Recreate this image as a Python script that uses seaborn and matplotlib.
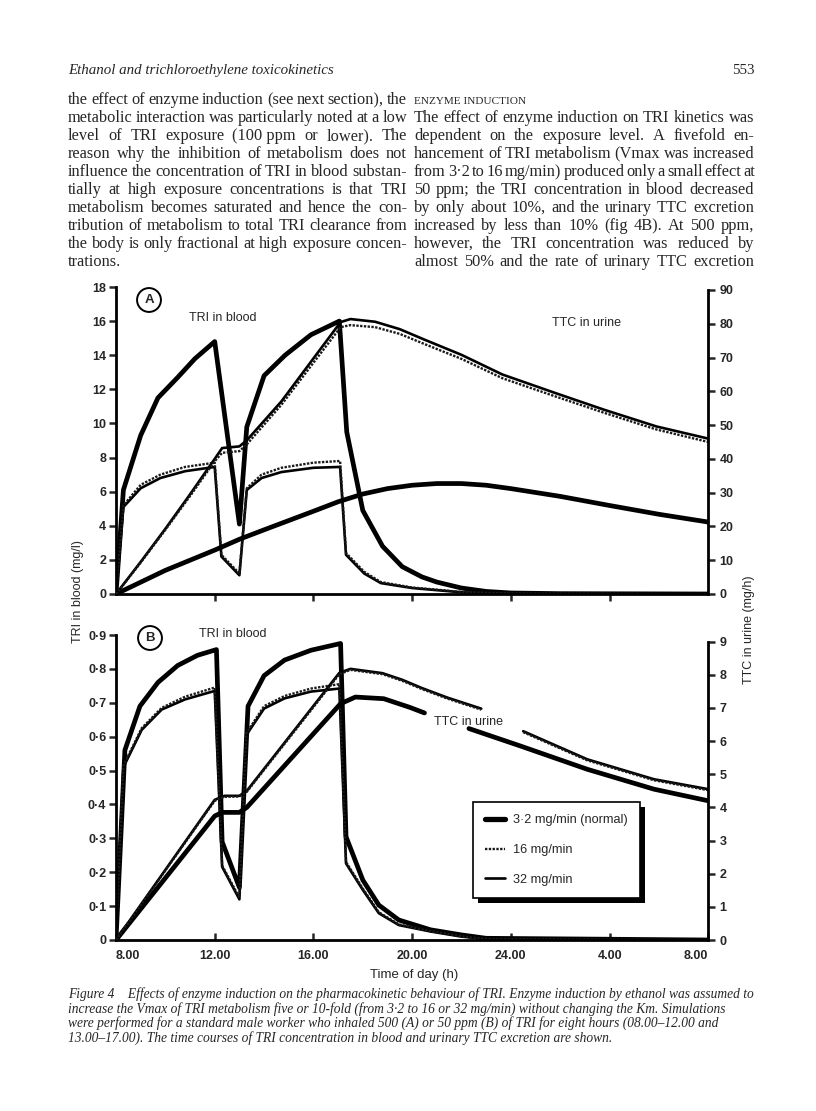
import numpy as np
import pandas as pd
import matplotlib
matplotlib.use("Agg")
import matplotlib.pyplot as plt
import seaborn as sns
from matplotlib.lines import Line2D
from matplotlib.patches import Rectangle

# ---------------- data ----------------
hour_ticks = [8, 12, 16, 20, 24, 28, 32]
hour_labels = ["8.00", "12.00", "16.00", "20.00", "24.00", "4.00", "8.00"]

a_blood_ticks = [0, 2, 4, 6, 8, 10, 12, 14, 16, 18]
a_urine_ticks = [0, 10, 20, 30, 40, 50, 60, 70, 80, 90]
b_blood_ticks = [0, 0.1, 0.2, 0.3, 0.4, 0.5, 0.6, 0.7, 0.8, 0.9]
b_blood_labels = ["0", "0·1", "0·2", "0·3", "0·4", "0·5", "0·6", "0·7", "0·8", "0·9"]
b_urine_ticks = [0, 1, 2, 3, 4, 5, 6, 7, 8, 9]

series_labels = ["3·2 mg/min (normal)", "16 mg/min", "32 mg/min"]

# Panel A (500 ppm) - TRI in blood (mg/l)
a_blood_normal_t = [8.0, 8.3, 9.0, 9.7, 10.5, 11.2, 12.0, 13.0, 13.3, 14.0, 14.85, 15.9, 17.05,
                    17.35, 18.0, 18.8, 19.6, 20.4, 21.0, 22.0, 23.0, 24.0, 26.0, 32.0]
a_blood_normal_v = [0, 6.1, 9.3, 11.5, 12.7, 13.8, 14.8, 4.1, 9.8, 12.8, 14.0, 15.2, 16.0,
                    9.5, 4.9, 2.8, 1.6, 1.0, 0.7, 0.35, 0.15, 0.06, 0.02, 0]
a_blood_t = [8.0, 8.3, 9.0, 9.8, 10.8, 12.0, 12.27, 13.0, 13.3, 13.9, 14.7, 16.0, 17.08,
             17.32, 18.06, 18.73, 20.0, 20.8, 22.0, 24.0, 32.0]
a_blood_16_v = [0, 5.2, 6.4, 7.0, 7.45, 7.7, 2.3, 1.2, 6.2, 7.0, 7.4, 7.7, 7.8,
                2.4, 1.3, 0.7, 0.38, 0.28, 0.12, 0.03, 0]
a_blood_32_v = [0, 5.1, 6.2, 6.8, 7.2, 7.45, 2.2, 1.1, 6.1, 6.8, 7.15, 7.4, 7.45,
                2.3, 1.2, 0.64, 0.35, 0.25, 0.1, 0.02, 0]

# Panel A - TTC in urine (mg/h)
a_urine_normal_t = [8.0, 10.0, 12.0, 13.0, 14.0, 16.0, 17.0, 18.0, 19.0, 20.0, 21.0, 22.0,
                    23.0, 24.0, 26.0, 28.0, 30.0, 32.0]
a_urine_normal_v = [0, 7.0, 13.0, 16.2, 19.0, 24.5, 27.3, 29.6, 31.2, 32.2, 32.7, 32.7,
                    32.2, 31.2, 28.9, 26.2, 23.6, 21.3]
a_urine_t = [8.0, 9.0, 10.0, 11.0, 12.0, 12.3, 13.0, 13.3, 14.7, 17.1, 17.5, 18.5, 19.5,
             20.5, 22.0, 23.65, 25.8, 27.8, 29.9, 32.0]
a_urine_32_v = [0, 9.5, 19.3, 29.5, 40.0, 43.2, 43.7, 45.5, 57.0, 80.5, 81.4, 80.6, 78.4,
                75.3, 70.8, 65.0, 59.5, 54.5, 49.6, 46.0]
a_urine_16_v = [0, 9.3, 19.0, 29.0, 39.3, 41.8, 42.3, 44.3, 56.0, 79.0, 79.6, 79.0, 77.0,
                74.0, 69.6, 63.9, 58.5, 53.6, 48.7, 45.0]

# Panel B (50 ppm) - TRI in blood (mg/l)
b_blood_normal_t = [8.0, 8.36, 8.97, 9.7, 10.5, 11.3, 12.07, 12.3, 13.0, 13.35, 14.0, 14.83,
                    15.9, 17.1, 17.32, 18.0, 18.65, 19.46, 20.75, 22.0, 23.0, 32.0]
b_blood_normal_v = [0, 0.56, 0.69, 0.76, 0.81, 0.84, 0.857, 0.29, 0.155, 0.69, 0.78, 0.826,
                    0.855, 0.875, 0.305, 0.177, 0.103, 0.059, 0.03, 0.015, 0.005, 0]
b_blood_t = [8.0, 8.3, 9.04, 9.85, 10.8, 12.0, 12.3, 13.0, 13.28, 14.0, 14.83, 15.9, 17.05,
             17.32, 18.0, 18.65, 19.46, 20.75, 22.0, 23.0, 32.0]
b_blood_16_v = [0, 0.515, 0.625, 0.685, 0.718, 0.745, 0.22, 0.125, 0.61, 0.69, 0.72, 0.742,
                0.755, 0.23, 0.152, 0.082, 0.046, 0.026, 0.011, 0.003, 0]
b_blood_32_v = [0, 0.51, 0.62, 0.68, 0.71, 0.735, 0.216, 0.12, 0.605, 0.683, 0.713, 0.733,
                0.742, 0.226, 0.148, 0.079, 0.044, 0.025, 0.01, 0.003, 0]

# Panel B - TTC in urine (mg/h); NaN = break in the printed line
b_urine_normal_t = [8.0, 12.0, 12.3, 13.0, 13.3, 17.1, 17.7, 18.85, 19.9, 20.5, 21.4,
                    22.3, 24.4, 27.1, 29.8, 32.0]
b_urine_normal_v = [0, 3.74, 3.85, 3.85, 4.0, 7.13, 7.33, 7.28, 7.02, 6.85, np.nan,
                    6.38, 5.85, 5.15, 4.55, 4.2]
b_urine_t = [8.0, 12.0, 12.4, 13.0, 13.3, 17.05, 17.5, 18.8, 19.6, 20.4, 21.4, 22.8, 23.6,
             24.5, 27.1, 29.8, 32.0]
b_urine_32_v = [0, 4.23, 4.35, 4.35, 4.5, 8.06, 8.18, 8.05, 7.85, 7.6, 7.32, 6.98, np.nan,
                6.3, 5.45, 4.85, 4.55]
b_urine_16_v = [0, 4.2, 4.32, 4.33, 4.47, 8.02, 8.15, 8.02, 7.82, 7.57, 7.29, 6.95, np.nan,
                6.27, 5.42, 4.82, 4.52]

# ---------------- style ----------------
sns.set_style("white")
plt.rcParams["font.family"] = ["Liberation Sans", "DejaVu Sans"]

W, H = 816, 1111
fig = plt.figure(figsize=(W / 100, H / 100), dpi=100)
fig.patch.set_facecolor("white")

X0, X1 = 116, 708.3


def rect(top, bottom):
    return [X0 / W, 1 - bottom / H, (X1 - X0) / W, (bottom - top) / H]


axA = fig.add_axes(rect(287, 594))
axB = fig.add_axes(rect(635, 940))
axA2 = axA.twinx()
axB2 = axB.twinx()

STY = {
    "normal": dict(color="black", linewidth=3.4, linestyle="-"),
    "16": dict(color="#1a1a1a", linewidth=1.7, linestyle=(0, (1.0, 0.6))),
    "32": dict(color="black", linewidth=1.9, linestyle="-"),
}


def draw(ax, t, v, key):
    df = pd.DataFrame({"t": t, "v": v})
    ok = df["v"].notna()
    grp = (~ok).cumsum()
    for _, seg in df[ok].groupby(grp[ok]):
        sns.lineplot(data=seg, x="t", y="v", ax=ax, sort=False, estimator=None,
                     legend=False, **STY[key])


# Panel A
draw(axA, a_blood_normal_t, a_blood_normal_v, "normal")
draw(axA, a_blood_t, a_blood_32_v, "32")
draw(axA, a_blood_t, a_blood_16_v, "16")
draw(axA2, a_urine_normal_t, a_urine_normal_v, "normal")
draw(axA2, a_urine_t, a_urine_32_v, "32")
draw(axA2, a_urine_t, a_urine_16_v, "16")
# Panel B
draw(axB, b_blood_normal_t, b_blood_normal_v, "normal")
draw(axB, b_blood_t, b_blood_32_v, "32")
draw(axB, b_blood_t, b_blood_16_v, "16")
draw(axB2, b_urine_normal_t, b_urine_normal_v, "normal")
draw(axB2, b_urine_t, b_urine_32_v, "32")
draw(axB2, b_urine_t, b_urine_16_v, "16")

for ax in (axA, axA2, axB, axB2):
    ax.set_xlim(8, 32)
    ax.set_xlabel("")
    ax.set_ylabel("")
    ax.set_facecolor("none")
    ax.grid(False)
    for s in ax.spines.values():
        s.set_linewidth(2.0)
        s.set_color("black")
    ax.spines["top"].set_visible(False)

for ax in (axA, axB):
    ax.spines["right"].set_visible(False)
for ax in (axA2, axB2):
    ax.spines["left"].set_visible(False)
    ax.spines["bottom"].set_visible(False)
    ax.tick_params(axis="x", which="both", bottom=False, top=False, labelbottom=False)

axA.set_ylim(0, 18)
axA2.set_ylim(0, 90 * 307 / 304)
axB.set_ylim(0, 0.9)
axB2.set_ylim(0, 9 * 305 / 298.3)
axA.spines["left"].set_bounds(0, 18)
axA2.spines["right"].set_bounds(0, 90)
axB.spines["left"].set_bounds(0, 0.9)
axB2.spines["right"].set_bounds(0, 9)

tick_font = dict(fontsize=9, fontweight="bold")

axA.set_yticks(a_blood_ticks)
axA.set_yticklabels([str(v) for v in a_blood_ticks], **tick_font)
axA2.set_yticks(a_urine_ticks)
axA2.set_yticklabels([str(v) for v in a_urine_ticks], **tick_font)
axB.set_yticks(b_blood_ticks)
axB.set_yticklabels(b_blood_labels, **tick_font)
axB2.set_yticks(b_urine_ticks)
axB2.set_yticklabels([str(v) for v in b_urine_ticks], **tick_font)

for ax in (axA, axB):
    ax.tick_params(axis="y", direction="out", length=5, width=1.8, pad=2, left=True)
for ax in (axA2, axB2):
    ax.tick_params(axis="y", direction="out", length=5, width=1.8, pad=3, right=True)

axA.set_xticks(hour_ticks[1:-1])
axA.tick_params(axis="x", direction="out", length=5, width=1.8, labelbottom=False, bottom=True)
axB.set_xticks(hour_ticks)
axB.set_xticklabels(hour_labels, **tick_font)
axB.tick_params(axis="x", direction="in", length=5, width=1.8, pad=7, bottom=True)
xl = axB.get_xticklabels()
xl[0].set_horizontalalignment("left")
xl[-1].set_horizontalalignment("right")


def P(x, y):
    return x / W, 1 - y / H


# panel annotations
for lab, (cx, cy) in (("A", (149, 300)), ("B", (150, 638))):
    fig.text(*P(cx, cy), lab, ha="center", va="center", fontsize=9.5, fontweight="bold",
             bbox=dict(boxstyle="circle,pad=0.45", fc="white", ec="black", lw=1.4))
fig.text(*P(223, 318), "TRI in blood", ha="center", va="center", fontsize=9)
fig.text(*P(233, 634), "TRI in blood", ha="center", va="center", fontsize=9)
fig.text(*P(587, 323), "TTC in urine", ha="center", va="center", fontsize=9)
fig.text(*P(469, 722), "TTC in urine", ha="center", va="center", fontsize=9)
fig.text(*P(78, 592), "TRI in blood (mg/l)", ha="center", va="center", rotation=90, fontsize=9)
fig.text(*P(749, 630), "TTC in urine (mg/h)", ha="center", va="center", rotation=90, fontsize=9)
fig.text(*P(414, 975), "Time of day (h)", ha="center", va="center", fontsize=9.5)

# legend
handles = [Line2D([], [], **STY["normal"]), Line2D([], [], **STY["16"]), Line2D([], [], **STY["32"])]
handles[0].set_linewidth(3.8)
leg = axB2.legend(handles, series_labels, loc="upper left", bbox_to_anchor=P(473, 802),
                  bbox_transform=fig.transFigure, frameon=True, fancybox=False,
                  edgecolor="black", framealpha=1, facecolor="white", borderpad=0.95,
                  labelspacing=1.4, handlelength=1.55, handletextpad=0.6, borderaxespad=0,
                  prop=dict(family="Liberation Sans", size=9.2))
leg.get_frame().set_linewidth(1.2)
leg.set_zorder(10)

# ---------------- page text ----------------
renderer = fig.canvas.get_renderer()
SERIF = ["Liberation Serif", "DejaVu Serif"]


def natural_width(s, **kw):
    t = fig.text(0, 0, s, family=SERIF, **kw)
    w = t.get_window_extent(renderer).width
    t.remove()
    return w


def fit_size(lines, target, base=10.0, **kw):
    ratios = [target / natural_width(s, fontsize=base, **kw) for s in lines]
    return base * float(np.median(ratios))


def put_line(s, x0, x1, ybase, justify=True, **kw):
    if not justify:
        fig.text(*P(x0, ybase), s, va="baseline", ha="left", family=SERIF, **kw)
        return
    words = s.split(" ")
    texts = [fig.text(*P(x0, ybase), w, va="baseline", ha="left", family=SERIF, **kw) for w in words]
    widths = [t.get_window_extent(renderer).width for t in texts]
    gap = (x1 - x0 - sum(widths)) / max(len(words) - 1, 1)
    gap = max(gap, 2.0)
    x = x0
    for t, w in zip(texts, widths):
        t.set_x(x / W)
        x += w + gap


header = "Ethanol and trichloroethylene toxicokinetics"
hs = 10.0 * 267 / natural_width(header, fontsize=10.0, style="italic")
fig.text(*P(68, 74), header, family=SERIF, style="italic", fontsize=hs, va="baseline", ha="left")
fig.text(*P(755, 74), "553", family=SERIF, fontsize=hs, va="baseline", ha="right")

left_col = [
    "the effect of enzyme induction (see next section), the",
    "metabolic interaction was particularly noted at a low",
    "level of TRI exposure (100\u00a0ppm or lower). The",
    "reason why the inhibition of metabolism does not",
    "influence the concentration of TRI in blood substan-",
    "tially at high exposure concentrations is that TRI",
    "metabolism becomes saturated and hence the con-",
    "tribution of metabolism to total TRI clearance from",
    "the body is only fractional at high exposure concen-",
    "trations.",
]
right_col = [
    "The effect of enzyme induction on TRI kinetics was",
    "dependent on the exposure level. A fivefold en-",
    "hancement of TRI metabolism (Vmax was increased",
    "from 3·2 to 16 mg/min) produced only a small effect at",
    "50 ppm; the TRI concentration in blood decreased",
    "by only about 10%, and the urinary TTC excretion",
    "increased by less than 10% (fig 4B). At 500 ppm,",
    "however, the TRI concentration was reduced by",
    "almost 50% and the rate of urinary TTC excretion",
]
body_size = 0.97 * fit_size(left_col[:-1] + right_col, 339)
for i, s in enumerate(left_col):
    put_line(s, 68, 407, 104 + 18 * i, justify=(i < len(left_col) - 1), fontsize=body_size)
sc = 10.0 * 113 / natural_width("ENZYME INDUCTION", fontsize=10.0)
put_line("ENZYME INDUCTION", 414, 530, 104, justify=False, fontsize=sc)
for i, s in enumerate(right_col):
    put_line(s, 414, 754, 122 + 18 * i, justify=True, fontsize=body_size)

caption = [
    "Figure 4    Effects of enzyme induction on the pharmacokinetic behaviour of TRI. Enzyme induction by ethanol was assumed to",
    "increase the Vmax of TRI metabolism five or 10-fold (from 3·2 to 16 or 32 mg/min) without changing the Km. Simulations",
    "were performed for a standard male worker who inhaled 500 (A) or 50 ppm (B) of TRI for eight hours (08.00–12.00 and",
    "13.00–17.00). The time courses of TRI concentration in blood and urinary TTC excretion are shown.",
]
cs = 10.0 * 689 / natural_width(caption[0], fontsize=10.0, style="italic")
for i, s in enumerate(caption):
    put_line(s, 68, 757, 998 + 14.6 * i, justify=False, fontsize=cs, style="italic")

fig.canvas.draw()
# legend shadow
bb = leg.get_window_extent(renderer)
shadow = Rectangle((bb.x0 + 5, bb.y0 - 5), bb.width, bb.height,
                   facecolor="black", edgecolor="none", zorder=9, clip_on=False)
shadow.set_transform(matplotlib.transforms.IdentityTransform())
axB2.add_artist(shadow)

fig.savefig("out.png", dpi=100, facecolor="white")
